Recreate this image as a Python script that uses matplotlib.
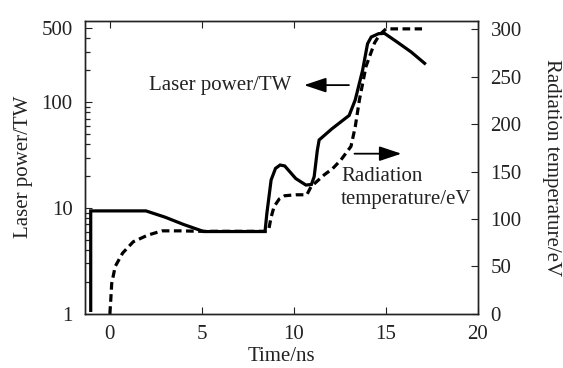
import matplotlib.pyplot as plt
from matplotlib.ticker import FixedLocator, LogLocator, NullFormatter

plt.rcParams['font.family'] = ['Liberation Serif', 'DejaVu Serif']
plt.rcParams['font.size'] = 15

# Laser power (TW), solid curve, log scale
t_power = [-1.04, -1.04, 1.96, 3.0, 4.0, 5.1, 8.43, 8.53, 8.76, 9.0, 9.25, 9.5,
           10.1, 10.65, 10.95, 11.1, 11.27, 11.37, 12.06, 13.0, 13.33, 13.73,
           14.0, 14.2, 14.6, 14.92, 15.6, 16.37, 17.1]
power = [1.08, 9.4, 9.4, 8.2, 7.0, 6.0, 6.0, 8.9, 18.4, 23.7, 25.5, 25.0,
         19.0, 16.5, 16.7, 19.8, 35, 44, 56, 75, 105, 200,
         357, 413, 444, 447, 371, 298, 233]

# Radiation temperature (eV), dashed curve, linear scale
t_temp = [0.0, 0.05, 0.1, 0.29, 0.69, 1.27, 2.06, 2.84, 3.8, 5.0, 8.45, 8.63,
          8.75, 8.92, 9.2, 9.5, 10.1, 10.7, 10.93, 11.1, 11.65, 12.1, 12.56,
          13.1, 13.33, 13.56, 13.92, 14.38, 14.65, 15.0, 16.96]
temp = [0, 15, 32, 50, 64, 76, 83, 87.5, 87.5, 87, 87, 88.5,
        101, 113, 121, 124.5, 125.5, 125.5, 134, 137, 146.6, 153, 162.4,
        176.5, 197, 225.7, 261, 285.5, 294, 300.3, 300.3]

x_ticks = [0, 5, 10, 15, 20]
power_ticks = [1, 10, 100, 500]
temp_ticks = [0, 50, 100, 150, 200, 250, 300]

fig = plt.figure(figsize=(5.63, 3.68), dpi=100)
ax = fig.add_axes([0.151, 0.147, 0.698, 0.797])
ax2 = ax.twinx()

ax.plot(t_power, power, color='black', lw=2.3, solid_joinstyle='miter')
ax2.plot(t_temp, temp, color='black', lw=2.3, dashes=(2.4, 1.4))

ax.set_yscale('log')
ax.set_xlim(-1.35, 20)
ax.set_ylim(1, 590)
ax2.set_ylim(0, 309)

ax.set_xticks(x_ticks)
ax.yaxis.set_major_locator(FixedLocator(power_ticks))
ax.set_yticklabels([str(v) for v in power_ticks])
ax.yaxis.set_minor_locator(LogLocator(base=10, subs=[2, 3, 4, 5, 6, 7, 8, 9],
                                      numticks=20))
ax.yaxis.set_minor_formatter(NullFormatter())
ax2.set_yticks(temp_ticks)

ax.tick_params(axis='x', direction='in', top=True, length=5, pad=8,
               colors='#222222')
ax.tick_params(axis='y', which='major', direction='in', length=5, pad=9,
               colors='#222222')
ax.tick_params(axis='y', which='minor', direction='in', length=3.5, width=0.9,
               color='#222222')
ax2.tick_params(axis='y', direction='in', length=5, pad=9, colors='#222222')

for a in (ax, ax2):
    for s in a.spines.values():
        s.set_linewidth(1.0)
        s.set_color('#222222')

ax.set_xlabel('Time/ns', labelpad=2, color='#222222')
ax.set_ylabel('Laser power/TW', labelpad=6, color='#222222')
ax2.set_ylabel('Radiation temperature/eV', rotation=270, labelpad=28,
               color='#222222')

# annotations
ax.text(2.13, 145, 'Laser power/TW', ha='left', va='center', color='#222222')
ax.annotate('', xy=(10.4, 145), xytext=(13.14, 145),
            arrowprops=dict(arrowstyle='-|>,head_length=0.9,head_width=0.3',
                            color='black', lw=1.3))
ax.text(12.56, 15.4, 'Radiation\ntemperature/eV', ha='left', va='center',
        linespacing=1.25, color='#222222')
ax2.annotate('', xy=(15.99, 168.8), xytext=(13.14, 168.8),
             arrowprops=dict(arrowstyle='-|>,head_length=0.9,head_width=0.3',
                             color='black', lw=1.3))

fig.savefig('out.png', dpi=100)
